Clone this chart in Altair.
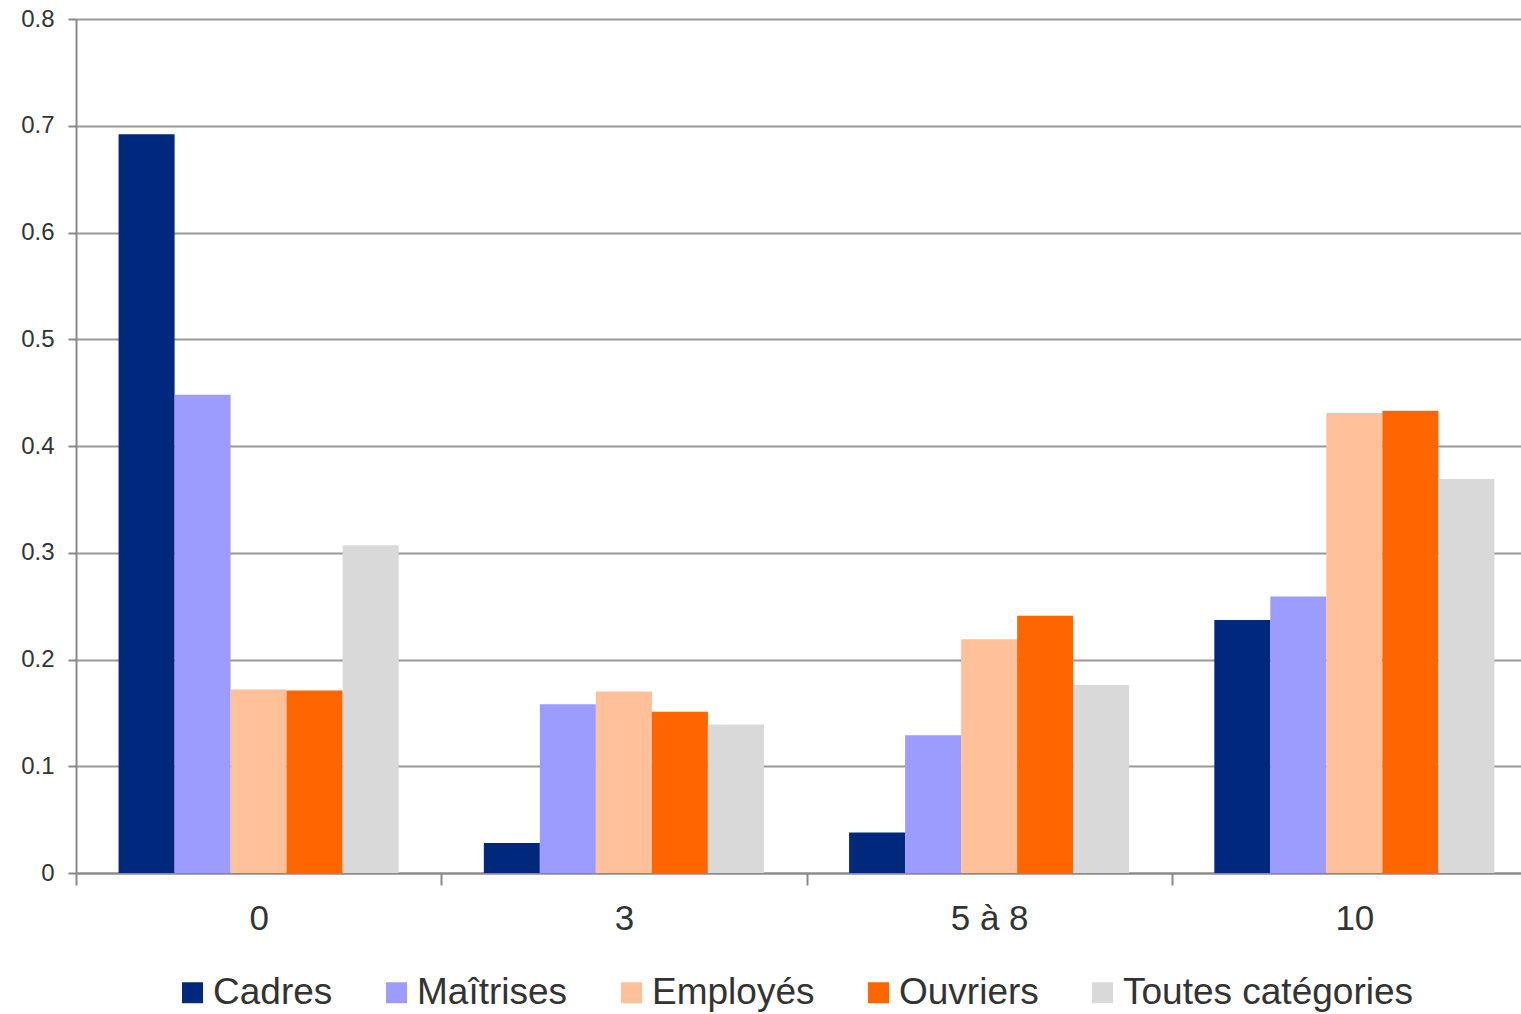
import altair as alt
import pandas as pd

# Seniority groups on the x axis and the five staff categories
groups = ["0", "3", "5 à 8", "10"]
series = ["Cadres", "Maîtrises", "Employés", "Ouvriers", "Toutes catégories"]

cadres = [0.692, 0.028, 0.038, 0.237]
maitrises = [0.448, 0.158, 0.129, 0.259]
employes = [0.172, 0.170, 0.219, 0.431]
ouvriers = [0.171, 0.151, 0.241, 0.433]
toutes = [0.307, 0.139, 0.176, 0.369]

colors = ["#00287d", "#9c9cff", "#ffc09a", "#ff6600", "#d9d9d9"]

values = [cadres, maitrises, employes, ouvriers, toutes]
rows = []
for s, vals in zip(series, values):
    for g, v in zip(groups, vals):
        rows.append({"groupe": g, "categorie": s, "valeur": v})
df = pd.DataFrame(rows)

FONT = "Liberation Sans"

chart = (
    alt.Chart(df)
    .mark_bar()
    .encode(
        x=alt.X(
            "groupe:N",
            sort=groups,
            title=None,
            # full-width bands so the category ticks fall between groups
            scale=alt.Scale(range=[0, 1461], paddingInner=0, paddingOuter=0),
            axis=alt.Axis(
                labelAngle=0,
                labelFontSize=35,
                labelFont=FONT,
                labelColor="#333333",
                labelPadding=16,
                tickBand="extent",
                tickSize=12,
                tickColor="#8a8a8a",
                tickWidth=2,
                domainColor="#8a8a8a",
                domainWidth=2,
                grid=False,
            ),
        ),
        # the gap around each cluster comes from the outer padding of the offset scale
        xOffset=alt.XOffset(
            "categorie:N", sort=series, scale=alt.Scale(paddingInner=0, paddingOuter=0.76)
        ),
        y=alt.Y(
            "valeur:Q",
            title=None,
            scale=alt.Scale(domain=[0, 0.8], nice=False),
            axis=alt.Axis(
                values=[0, 0.1, 0.2, 0.3, 0.4, 0.5, 0.6, 0.7, 0.8],
                format=".1~f",
                labelFontSize=24,
                labelFont=FONT,
                labelColor="#333333",
                labelPadding=14,
                tickSize=8,
                tickColor="#8a8a8a",
                tickWidth=2,
                domainColor="#8a8a8a",
                domainWidth=2,
                grid=True,
                gridColor="#999999",
                gridWidth=2,
            ),
        ),
        color=alt.Color(
            "categorie:N",
            sort=series,
            scale=alt.Scale(domain=series, range=colors),
            legend=alt.Legend(
                orient="none",
                legendX=98,
                legendY=955,
                direction="horizontal",
                title=None,
                symbolType="square",
                symbolSize=440,
                symbolStrokeWidth=0,
                labelFontSize=37,
                labelFont=FONT,
                labelColor="#333333",
                labelOffset=2,
                labelLimit=600,
                columnPadding=45,
            ),
        ),
    )
    .properties(
        width=1445,
        height=854,
        autosize="none",
        padding={"left": 76, "top": 19, "right": 0, "bottom": 141},
    )
    .configure_view(stroke=None)
    .configure(background="white")
)

chart.save("out.html", embed_options={"renderer": "svg", "actions": False})
